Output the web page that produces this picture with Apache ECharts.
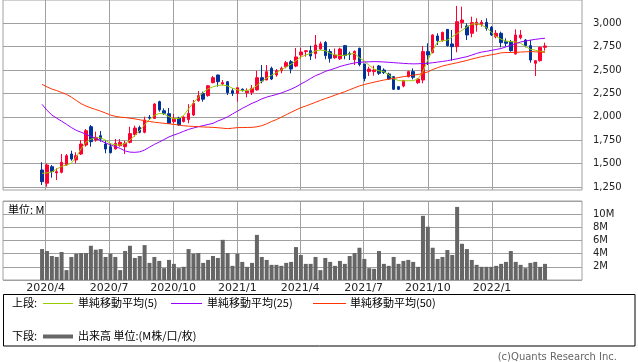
<!DOCTYPE html>
<html><head><meta charset="utf-8">
<script src="https://cdn.jsdelivr.net/npm/echarts@6/dist/echarts.min.js"></script>
<style>html,body{margin:0;padding:0;background:#fff}#c{width:638px;height:362px}</style>
</head><body><div id="c"></div><script>
const dates = [
'2020-03-27','2020-04-03','2020-04-10','2020-04-17','2020-04-24','2020-05-01','2020-05-08','2020-05-15','2020-05-22','2020-05-29',
'2020-06-05','2020-06-12','2020-06-19','2020-06-26','2020-07-03','2020-07-10','2020-07-17','2020-07-24','2020-07-31','2020-08-07',
'2020-08-14','2020-08-21','2020-08-28','2020-09-04','2020-09-11','2020-09-18','2020-09-25','2020-10-02','2020-10-09','2020-10-16',
'2020-10-23','2020-10-30','2020-11-06','2020-11-13','2020-11-20','2020-11-27','2020-12-04','2020-12-11','2020-12-18','2020-12-25',
'2021-01-01','2021-01-08','2021-01-15','2021-01-22','2021-01-29','2021-02-05','2021-02-12','2021-02-19','2021-02-26','2021-03-05',
'2021-03-12','2021-03-19','2021-03-26','2021-04-02','2021-04-09','2021-04-16','2021-04-23','2021-04-30','2021-05-07','2021-05-14',
'2021-05-21','2021-05-28','2021-06-04','2021-06-11','2021-06-18','2021-06-25','2021-07-02','2021-07-09','2021-07-16','2021-07-23',
'2021-07-30','2021-08-06','2021-08-13','2021-08-20','2021-08-27','2021-09-03','2021-09-10','2021-09-17','2021-09-24','2021-10-01',
'2021-10-08','2021-10-15','2021-10-22','2021-10-29','2021-11-05','2021-11-12','2021-11-19','2021-11-26','2021-12-03','2021-12-10',
'2021-12-17','2021-12-24','2021-12-31','2022-01-07','2022-01-14','2022-01-21','2022-01-28','2022-02-04','2022-02-11','2022-02-18',
'2022-02-25','2022-03-04','2022-03-11','2022-03-18'];
const open = [1431,1290,1466,1400,1406,1484,1602,1538,1602,1698,1894,1752,1798,1709,1680,1655,1691,1680,1727,1810,
1886,1834,1994,1983,2162,2065,2033,1948,1986,1948,1970,2019,2172,2248,2226,2365,2447,2351,2375,2279,
2251,2294,2258,2262,2287,2418,2393,2519,2447,2493,2536,2589,2542,2661,2697,2707,2675,2725,2795,2697,
2632,2620,2761,2675,2612,2732,2565,2483,2483,2543,2500,2458,2429,2322,2329,2429,2483,2365,2393,2697,
2686,2864,2814,2935,2779,2750,3007,2971,2893,2982,2989,3010,2957,2857,2893,2803,2803,2672,2846,2821,
2761,2572,2600,2743];
const close = [1306,1484,1413,1413,1513,1584,1548,1584,1709,1851,1734,1780,1762,1655,1616,1716,1727,1716,1820,1880,
1834,1966,1986,2137,2073,2037,1930,1980,1912,1998,2037,2144,2226,2188,2331,2418,2376,2365,2258,2251,
2311,2280,2276,2304,2418,2383,2482,2404,2493,2519,2579,2511,2640,2693,2707,2650,2768,2780,2654,2625,
2661,2725,2655,2665,2700,2560,2410,2511,2500,2465,2472,2404,2294,2294,2386,2483,2422,2404,2697,2661,
2875,2814,2903,2761,2750,3017,3035,2875,3007,3010,3010,2946,2875,2893,2793,2786,2707,2875,2875,2761,
2607,2600,2743,2757];
const low = [1270,1252,1349,1324,1395,1477,1530,1502,1591,1680,1680,1734,1734,1609,1609,1650,1680,1602,1716,1787,
1823,1823,1966,1976,2055,2019,1923,1930,1905,1940,1930,2008,2162,2162,2215,2358,2322,2336,2233,2222,
2161,2270,2208,2233,2279,2358,2393,2393,2429,2465,2519,2465,2530,2625,2643,2607,2620,2714,2615,2580,
2620,2607,2615,2607,2554,2540,2380,2436,2440,2447,2458,2393,2286,2286,2315,2422,2400,2351,2358,2554,
2679,2768,2803,2750,2600,2690,2946,2821,2850,2910,2964,2921,2864,2839,2743,2750,2697,2665,2828,2743,
2579,2436,2590,2707];
const high = [1513,1500,1484,1449,1602,1602,1637,1620,1752,1869,1912,1841,1848,1745,1716,1762,1762,1745,1894,1905,
1905,2001,2019,2144,2172,2090,2094,2030,2001,2005,2135,2180,2276,2269,2340,2436,2450,2393,2383,2304,
2311,2304,2304,2340,2493,2554,2554,2536,2511,2536,2597,2607,2735,2739,2714,2761,2875,2804,2810,2725,
2730,2739,2768,2697,2710,2739,2565,2536,2547,2554,2518,2472,2436,2329,2394,2493,2518,2411,2757,2786,
2882,2893,2910,2935,2928,3185,3178,3000,3071,3053,3035,3053,2971,2928,2910,2839,2821,2935,2928,2832,
2821,2607,2750,2793];
const ma5 = [1395,1400,1410,1440,1470,1484,1505,1570,1660,1730,1760,1775,1775,1750,1712,1700,1698,1715,1750,1800,
1855,1915,1970,2015,2035,2030,2000,1978,1982,2015,2085,2150,2210,2260,2300,2320,2335,2340,2330,2306,
2288,2280,2280,2300,2335,2380,2415,2445,2472,2505,2533,2562,2600,2640,2660,2678,2705,2714,2707,2680,
2662,2655,2657,2670,2677,2630,2595,2550,2510,2492,2483,2450,2405,2388,2383,2386,2386,2405,2485,2610,
2710,2800,2814,2820,2855,2890,2925,2960,2990,2995,2980,2955,2905,2860,2830,2810,2804,2800,2786,2752,
2722,2712,2700,2697];
const ma25 = [2133,2070,2019,1985,1953,1920,1885,1855,1835,1812,1790,1770,1745,1720,1700,1680,1662,1635,1622,1620,
1625,1645,1675,1705,1730,1757,1785,1805,1823,1845,1865,1880,1894,1906,1918,1930,1955,1975,2000,2030,
2060,2090,2117,2144,2165,2192,2210,2225,2238,2255,2275,2295,2320,2350,2378,2410,2440,2460,2485,2502,
2518,2538,2552,2565,2576,2583,2586,2588,2590,2589,2586,2583,2579,2575,2571,2568,2566,2567,2570,2572,
2578,2585,2592,2600,2610,2620,2632,2643,2660,2678,2692,2700,2710,2720,2730,2748,2765,2782,2800,2810,
2820,2828,2835,2840];
const ma50 = [2347,2320,2297,2280,2260,2240,2210,2175,2140,2115,2095,2078,2060,2040,2019,2005,1996,1992,1985,1978,
1968,1958,1950,1942,1936,1930,1925,1919,1912,1904,1900,1897,1894,1891,1889,1887,1883,1878,1873,1878,
1884,1885,1886,1887,1893,1905,1925,1950,1970,1996,2022,2048,2073,2098,2115,2135,2155,2175,2195,2212,
2232,2250,2268,2290,2310,2330,2345,2358,2370,2382,2393,2402,2410,2420,2429,2436,2445,2452,2465,2480,
2505,2525,2543,2555,2567,2578,2590,2603,2617,2630,2643,2653,2663,2672,2684,2687,2688,2689,2692,2695,
2697,2695,2692,2689];
const volume = [4.7,4.4,3.65,3.5,4.25,1.5,3.5,4.0,4.1,4.1,5.2,4.6,4.7,3.5,4.0,3.5,1.5,4.4,5.2,3.35,
3.65,5.3,2.6,3.5,2.9,1.8,3.05,2.45,1.8,2.0,4.7,4.0,4.1,2.6,3.05,3.65,3.35,6.1,4.1,2.15,
4.0,2.75,2.0,2.6,6.85,3.5,3.05,2.3,2.3,2.15,2.6,2.75,5.0,3.8,2.45,2.45,3.5,1.5,3.35,2.75,
2.15,2.9,2.45,3.65,4.1,4.9,3.2,1.8,1.7,4.4,2.45,2.15,3.5,2.45,2.9,3.05,2.75,2.0,9.75,8.1,
4.9,3.2,3.5,4.55,3.8,11.1,5.5,4.7,3.05,2.3,2.0,2.0,2.0,2.15,2.45,2.75,4.4,2.75,2.3,1.8,
2.6,2.75,2.0,2.45];
const priceTicks = [1250,1500,1750,2000,2250,2500,2750,3000];
const xTickDates = ['2020-04-01','2020-07-01','2020-10-01','2021-01-01','2021-04-01','2021-07-01','2021-10-01','2022-01-01'];
const xTickLabels = ['2020/4','2020/7','2020/10','2021/1','2021/4','2021/7','2021/10','2022/1'];
const xRange = ['2020-01-31','2022-05-10'];

const ts = s => { const p = s.split('-').map(Number); return Date.UTC(p[0], p[1]-1, p[2]); };
const xt = dates.map(ts);
const tickTs = xTickDates.map(ts);
const FONT = 'DejaVu Sans';
const CJK = '"Noto Sans CJK JP"';
const GRID_C = '#a0a0a0';

function xAxisCfg(gridIndex, showLabel) {
  return {
    type: 'value', gridIndex, min: ts(xRange[0]), max: ts(xRange[1]), scale: true,
    axisLine: {show: false},
    axisTick: {show: false, customValues: tickTs},
    axisLabel: {show: showLabel, customValues: tickTs, margin: 3, fontFamily: FONT, fontSize: 11, color: '#222',
      formatter: v => { const k = tickTs.indexOf(v); return k >= 0 ? xTickLabels[k] : ''; }},
    splitLine: {show: true, lineStyle: {color: GRID_C, width: 1}}
  };
}

const chart = echarts.init(document.getElementById('c'), null, {renderer: 'canvas'});
chart.setOption({
  animation: false,
  grid: [
    {left: 3, top: 0, width: 579, height: 190, show: true, borderColor: GRID_C, borderWidth: 1},
    {left: 3, top: 201, width: 579, height: 79, show: true, borderColor: GRID_C, borderWidth: 1}
  ],
  xAxis: [xAxisCfg(0, false), xAxisCfg(1, true)],
  yAxis: [
    {type: 'value', gridIndex: 0, position: 'right', min: 1217, max: 3249,
      axisLine: {show: false}, axisTick: {show: false, customValues: priceTicks},
      axisLabel: {customValues: priceTicks, align: 'left', margin: 11, fontFamily: FONT, fontSize: 10, color: '#222',
        formatter: v => v.toLocaleString('en-US')},
      splitLine: {show: true, lineStyle: {color: GRID_C, width: 1}}},
    {type: 'value', gridIndex: 1, position: 'right', min: 0, max: 12, interval: 2,
      axisLine: {show: false}, axisTick: {show: false},
      axisLabel: {align: 'left', margin: 11, fontFamily: FONT, fontSize: 10, color: '#222',
        formatter: v => (v === 0 || v === 12) ? '' : v + 'M'},
      splitLine: {show: true, lineStyle: {color: GRID_C, width: 1}}}
  ],
  series: [
    {type: 'candlestick', xAxisIndex: 0, yAxisIndex: 0, barWidth: 3, z: 2,
      encode: {x: 0, y: [1, 2, 3, 4]},
      itemStyle: {color: '#ff0033', color0: '#003399', borderColor: '#ff0033', borderColor0: '#003399', borderWidth: 1},
      data: xt.map((t, i) => [t, open[i], close[i], low[i], high[i]])},
    {type: 'line', name: '単純移動平均(5)', xAxisIndex: 0, yAxisIndex: 0, showSymbol: false, z: 3,
      lineStyle: {color: '#99cc00', width: 1}, data: xt.map((t, i) => [t, ma5[i]])},
    {type: 'line', name: '単純移動平均(25)', xAxisIndex: 0, yAxisIndex: 0, showSymbol: false, z: 3,
      lineStyle: {color: '#9900ff', width: 1}, data: xt.map((t, i) => [t, ma25[i]])},
    {type: 'line', name: '単純移動平均(50)', xAxisIndex: 0, yAxisIndex: 0, showSymbol: false, z: 3,
      lineStyle: {color: '#ff3300', width: 1}, data: xt.map((t, i) => [t, ma50[i]])},
    {type: 'bar', name: '出来高', xAxisIndex: 1, yAxisIndex: 1, barWidth: 4,
      itemStyle: {color: '#666666'}, data: xt.map((t, i) => [t, volume[i]])}
  ],
  graphic: [
    {type: 'text', left: 8, top: 204, style: {text: '単位: M', font: '11px ' + CJK, fill: '#000'}},
    {type: 'rect', shape: {x: 3.5, y: 294.5, width: 631.5, height: 51.5}, style: {fill: null, stroke: '#000', lineWidth: 1}},
    {type: 'text', x: 12, y: 303, style: {text: '上段:', font: '11px ' + CJK, fill: '#000', verticalAlign: 'middle'}},
    {type: 'line', shape: {x1: 43, y1: 303.5, x2: 73, y2: 303.5}, style: {stroke: '#99cc00', lineWidth: 1}},
    {type: 'text', x: 78, y: 303, style: {text: '単純移動平均(5)', font: '11px ' + CJK, fill: '#000', verticalAlign: 'middle'}},
    {type: 'line', shape: {x1: 171, y1: 303.5, x2: 202, y2: 303.5}, style: {stroke: '#9900ff', lineWidth: 1}},
    {type: 'text', x: 207, y: 303, style: {text: '単純移動平均(25)', font: '11px ' + CJK, fill: '#000', verticalAlign: 'middle'}},
    {type: 'line', shape: {x1: 313, y1: 303.5, x2: 346, y2: 303.5}, style: {stroke: '#ff3300', lineWidth: 1}},
    {type: 'text', x: 350, y: 303, style: {text: '単純移動平均(50)', font: '11px ' + CJK, fill: '#000', verticalAlign: 'middle'}},
    {type: 'text', x: 12, y: 336, style: {text: '下段:', font: '11px ' + CJK, fill: '#000', verticalAlign: 'middle'}},
    {type: 'line', shape: {x1: 43, y1: 336.5, x2: 73, y2: 336.5}, style: {stroke: '#666666', lineWidth: 4}},
    {type: 'text', x: 78, y: 336, style: {text: '出来高 単位:(M株/口/枚)', font: '11px ' + CJK, fill: '#000', verticalAlign: 'middle'}},
    {type: 'text', x: 617, y: 357, style: {text: '(c)Quants Research Inc.', font: '10px ' + FONT, fill: '#666', align: 'right', verticalAlign: 'middle'}}
  ]
});
</script></body></html>
